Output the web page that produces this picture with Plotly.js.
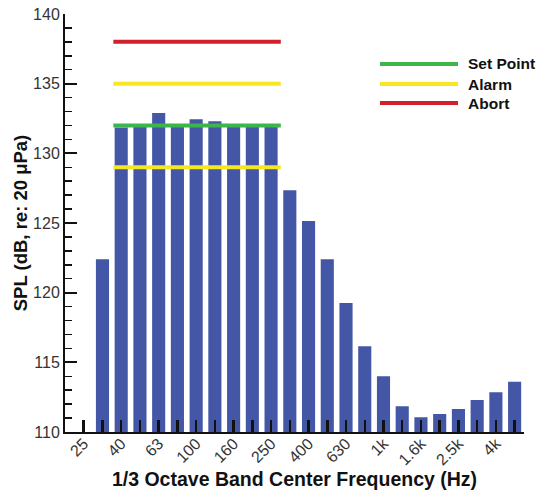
<!DOCTYPE html>
<html>
<head>
<meta charset="utf-8">
<script src="https://cdn.plot.ly/plotly-3.0.1.min.js"></script>
<style>html,body{margin:0;padding:0;background:#fff;}#chart{width:544px;height:495px;}</style>
</head>
<body>
<div id="chart"></div>
<script>
// 1/3 octave band centre frequencies
var bands = ['25','31.5','40','50','63','80','100','125','160','200','250','315','400','500','630','800','1k','1.25k','1.6k','2k','2.5k','3.15k','4k','5k'];
// tick labels shown (every other band)
var shownLabels = ['25','40','63','100','160','250','400','630','1k','1.6k','2.5k','4k'];
// measured SPL, dB re 20 µPa (null = below axis)
var spl = [null,122.4,131.85,131.9,132.9,131.9,132.45,132.3,131.9,131.9,131.9,127.35,125.15,122.4,119.25,116.15,114.0,111.85,111.05,111.3,111.65,112.3,112.85,113.6];
// control limits
var limitNames = ['Set Point','Alarm','Abort'];
var limitColors = ['#3DB54A','#F7E720','#D4202A'];
var setPoint = 132;
var alarmHigh = 135;
var alarmLow = 129;
var abortLevel = 138;
var limitStartBand = '40';
var limitEndBand = '250';

var idx = bands.map(function(_, i){ return i; });
var ticktext = bands.map(function(b){ return shownLabels.indexOf(b) >= 0 ? b : ''; });
var x0 = bands.indexOf(limitStartBand) - 0.42;
var x1 = bands.indexOf(limitEndBand) + 0.52;

var font = 'Liberation Sans, Arial, sans-serif';

var traces = [
  {type:'bar', x: idx, y: spl, width: 0.7, marker:{color:'#4456A6'}, showlegend:false, hoverinfo:'y'},
  {type:'scatter', mode:'lines', x:[x0,x1], y:[alarmLow,alarmLow], line:{color:limitColors[1], width:4}, name:'Alarm (low)', showlegend:false},
  {type:'scatter', mode:'lines', x:[x0,x1], y:[setPoint,setPoint], line:{color:limitColors[0], width:4}, name:limitNames[0], showlegend:false},
  {type:'scatter', mode:'lines', x:[x0,x1], y:[alarmHigh,alarmHigh], line:{color:limitColors[1], width:4}, name:limitNames[1], showlegend:false},
  {type:'scatter', mode:'lines', x:[x0,x1], y:[abortLevel,abortLevel], line:{color:limitColors[2], width:4}, name:limitNames[2], showlegend:false}
];

// legend drawn in pixel space (converted to paper coords)
var W = 544, H = 495, mL = 65, mR = 20, mT = 14, mB = 63;
function px(x){ return (x - mL) / (W - mL - mR); }
function py(y){ return 1 - (y - mT) / (H - mT - mB); }
var legendRowsY = [64, 84, 103];
var shapes = [], annotations = [];
limitNames.forEach(function(n, i){
  shapes.push({type:'line', xref:'paper', yref:'paper', x0:px(380), x1:px(458), y0:py(legendRowsY[i]), y1:py(legendRowsY[i]),
               line:{color:limitColors[i], width:4}});
  annotations.push({xref:'paper', yref:'paper', x:px(466), y:py(legendRowsY[i]), xanchor:'left', yanchor:'middle',
                    text:n, showarrow:false, font:{family:font, size:15.5, weight:700, color:'#111'}});
});

var layout = {
  width:W, height:H,
  margin:{l:mL, r:mR, t:mT, b:mB, pad:0},
  paper_bgcolor:'#fff', plot_bgcolor:'#fff',
  font:{family:font, color:'#222'},
  showlegend:false,
  shapes:shapes, annotations:annotations,
  xaxis:{
    range:[-1, 23.5], tickmode:'array', tickvals: idx, ticktext: ticktext,
    tickangle:-45, ticks:'inside', ticklen:12, tickwidth:2.5, tickcolor:'#111',
    showline:true, linewidth:2, linecolor:'#111', showgrid:false, zeroline:false,
    ticklabelstandoff:-6,
    tickfont:{family:font, size:16, color:'#333'},
    title:{text:'1/3 Octave Band Center Frequency (Hz)', font:{family:font, size:19.5, weight:700, color:'#111'}, standoff:2}
  },
  yaxis:{
    range:[110,140], tickmode:'linear', tick0:110, dtick:5,
    ticks:'inside', ticklen:12, tickwidth:2, tickcolor:'#111',
    minor:{dtick:1, ticks:'inside', ticklen:7, tickwidth:1.5, tickcolor:'#111', showgrid:false},
    showline:true, linewidth:2, linecolor:'#111', showgrid:false, zeroline:false,
    tickfont:{family:font, size:16, color:'#333'},
    title:{text:'SPL (dB, re: 20 μPa)', font:{family:font, size:18.5, weight:700, color:'#111'}, standoff:1}
  }
};

Plotly.newPlot('chart', traces, layout, {displayModeBar:false, staticPlot:true});
</script>
</body>
</html>
